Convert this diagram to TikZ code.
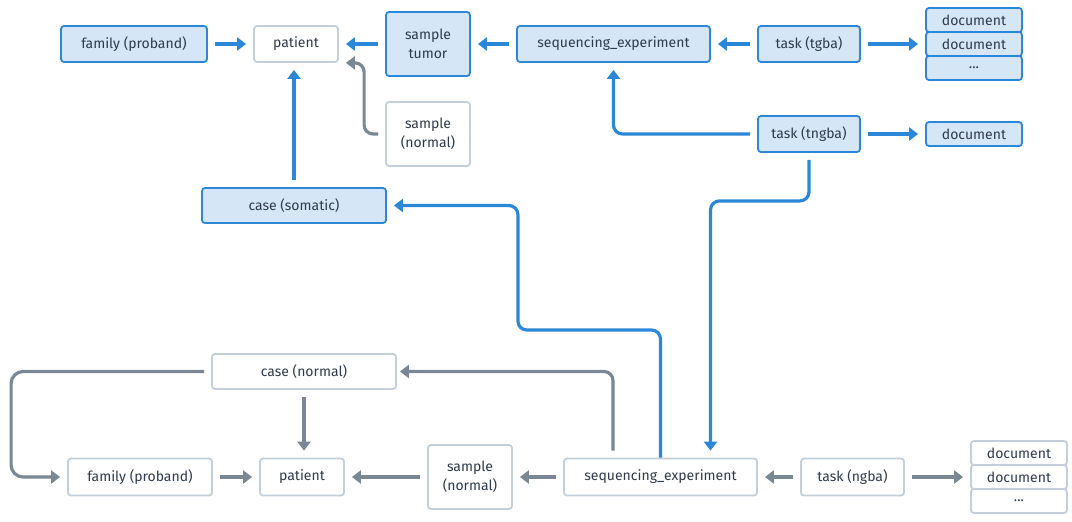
\documentclass[tikz,border=0pt]{standalone}
\usepackage{fontspec}
\setmainfont{Fira Sans}
\usetikzlibrary{arrows.meta}
\definecolor{bline}{HTML}{2B88D8}
\definecolor{bfill}{HTML}{D5E6F6}
\definecolor{gline}{HTML}{C3CFDB}
\definecolor{garr}{HTML}{7A8795}
\definecolor{txt}{HTML}{2F3B4C}
\begin{document}
\begin{tikzpicture}[x=1pt, y=1pt, node distance=165pt]
\tikzstyle{bb} = [rectangle, rounded corners=3pt, draw=bline, fill=bfill, line width=1.8pt, inner sep=0pt, minimum height=36pt, text=txt, align=center, font=\fontsize{14}{19.5}\selectfont]
\tikzstyle{wb} = [bb, draw=gline, fill=white]
\tikzstyle{doc} = [bb, minimum width=96pt, minimum height=24pt]
\tikzstyle{ba} = [draw=bline, line width=3.2pt, rounded corners=9pt, shorten <=7pt, shorten >=7pt, -{Triangle[length=9pt, width=13pt]}]
\tikzstyle{ga} = [ba, draw=garr]
\useasboundingbox (0,0) rectangle (1072,-522);
% somatic part
\node (FamT) [bb, minimum width=146pt] at (134,-44) {family (proband)};
\node (PatT) [wb, minimum width=84pt, right of=FamT, xshift=-3pt] {patient};
\node (SmpTum) [bb, minimum width=84pt, minimum height=64pt, right of=PatT, xshift=-33pt] {sample\\tumor};
\node (SeqT) [bb, minimum width=193pt, right of=SmpTum, xshift=20.5pt] {sequencing\_experiment};
\node (TaskTg) [bb, minimum width=102pt, right of=SeqT, xshift=30.5pt] {task (tgba)};
\node (DocTb) [doc, right of=TaskTg] {document};
\node (DocTa) [doc, node distance=24pt, above of=DocTb] {document};
\node (DocTc) [doc, node distance=24pt, below of=DocTb] {...};
\node (SmpNrmT) [wb, minimum width=84pt, minimum height=64pt, below of=SmpTum, yshift=75pt] {sample\\(normal)};
\node (TaskTng) [bb, minimum width=102pt, below of=TaskTg, yshift=75pt] {task (tngba)};
\node (DocTng) [doc, right of=TaskTng] {document};
\node (CaseS) [bb, minimum width=184pt, minimum height=35pt, below of=PatT, xshift=-2pt, yshift=3.5pt] {case (somatic)};
% normal part
\node (PatB) [wb, minimum width=84pt, minimum height=37pt] at (302,-477) {patient};
\node (FamB) [wb, minimum width=144pt, minimum height=37pt, left of=PatB, xshift=3pt] {family (proband)};
\node (SmpNrmB) [wb, minimum width=84pt, minimum height=64pt, right of=PatB, xshift=3pt] {sample\\(normal)};
\node (SeqB) [wb, minimum width=193pt, minimum height=37pt, right of=SmpNrmB, xshift=25.5pt] {sequencing\_experiment};
\node (TaskNg) [wb, minimum width=103pt, minimum height=37pt, right of=SeqB, xshift=27pt] {task (ngba)};
\node (DocBb) [doc, draw=gline, fill=white, right of=TaskNg, xshift=1.5pt] {document};
\node (DocBa) [doc, draw=gline, fill=white, node distance=24pt, above of=DocBb] {document};
\node (DocBc) [doc, draw=gline, fill=white, node distance=24pt, below of=DocBb] {...};
\node (CaseN) [wb, minimum width=184pt, minimum height=35pt, above of=PatB, xshift=2pt, yshift=-59.5pt] {case (normal)};

\draw[ba] (FamT) -- (PatT);
\draw[ba] (SmpTum) -- (PatT);
\draw[ba] (SeqT) -- (SmpTum);
\draw[ba] (TaskTg) -- (SeqT);
\draw[ba] (TaskTg) -- (DocTb);
\draw[ba] (TaskTng) -- (DocTng);
\draw[ba] (TaskTng.west) -| (SeqT.south);
\draw[ga] (SmpNrmT.west) -- ++(-21,0) |- (PatT.south east);
\draw[ba] (CaseS.north) -- (CaseS.north |- PatT.south);
\draw[ba, shorten <=0pt] (SeqB.north) |- ([xshift=131pt, yshift=-124.5pt]CaseS.east) |- (CaseS.east);
\draw[ba] (TaskTng.south) -- ++(0,-48) -| ([xshift=50pt]SeqB.north);

\draw[ga, rounded corners=12pt] (CaseN.west) -- ++(-200,0) |- (FamB.west);
\draw[ga] (CaseN.south) -- (CaseN.south |- PatB.north);
\draw[ga] (FamB) -- (PatB);
\draw[ga] (SmpNrmB) -- (PatB);
\draw[ga] (SeqB) -- (SmpNrmB);
\draw[ga] (TaskNg) -- (SeqB);
\draw[ga] (TaskNg) -- (DocBb);
\draw[ga, shorten >=3pt] ([xshift=-47.5pt]SeqB.north) |- (CaseN.east);
\end{tikzpicture}
\end{document}
